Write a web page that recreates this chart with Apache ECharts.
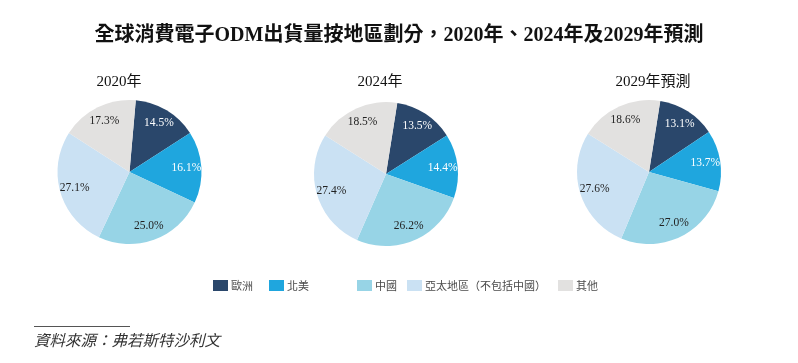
<!DOCTYPE html>
<html><head><meta charset="utf-8">
<script src="https://cdn.jsdelivr.net/npm/echarts@6/dist/echarts.min.js"></script>
<style>html,body{margin:0;padding:0;background:#fff}#c{width:798px;height:363px}</style>
</head><body><div id="c"></div>
<script>
const regions = ['歐洲', '北美', '中國', '亞太地區（不包括中國）', '其他'];
const years = ['2020年', '2024年', '2029年預測'];
const share2020 = [14.5, 16.1, 25.0, 27.1, 17.3];
const share2024 = [13.5, 14.4, 26.2, 27.4, 18.5];
const share2029 = [13.1, 13.7, 27.0, 27.6, 18.6];
const shares = [share2020, share2024, share2029];

const colors = ['#2a476b', '#1fa6de', '#97d4e6', '#cae1f3', '#e2e1e0'];
const labelColors = ['#ffffff', '#ffffff', '#222222', '#222222', '#222222'];
const centers = [[129.5, 172], [386, 174], [649, 172]];
const titleX = [114, 375, 648];
const starts = [85, 81, 81];
const R = 72;
const serif = '"Liberation Serif", "Noto Sans CJK TC", serif';

const chart = echarts.init(document.getElementById('c'), null, {renderer: 'canvas'});
const series = [];
shares.forEach((vals, i) => {
  series.push({
    type: 'pie', center: centers[i], radius: [0, R], startAngle: starts[i],
    clockwise: true, silent: true, animation: false,
    label: {show: false}, labelLine: {show: false},
    itemStyle: {borderWidth: 0},
    data: regions.map((n, k) => ({name: n, value: vals[k], itemStyle: {color: colors[k]}}))
  });
});
shares.forEach((vals, i) => {
  series.push({
    type: 'pie', center: centers[i], radius: [36, R], startAngle: starts[i],
    clockwise: true, silent: true, animation: false, avoidLabelOverlap: false,
    labelLine: {show: false},
    itemStyle: {color: 'rgba(0,0,0,0)', borderWidth: 0},
    label: {show: true, position: 'inside', fontFamily: serif, fontSize: 11.5,
      formatter: p => p.value.toFixed(1) + '%'},
    data: regions.map((n, k) => ({name: n, value: vals[k],
      label: {color: labelColors[k]}}))
  });
});

const legendX = [208, 264, 352, 402, 553];
const legends = regions.map((n, k) => ({
  data: [n], left: legendX[k], top: 275, itemWidth: 15, itemHeight: 11,
  icon: 'rect', selectedMode: false,
  textStyle: {fontSize: 11, color: '#4a4a4a', fontFamily: '"Noto Sans CJK TC"', padding: [0, 0, 0, -2]}
}));

const titles = [{
  text: '全球消費電子ODM出貨量按地區劃分，2020年、2024年及2029年預測',
  left: 'center', top: 21,
  textStyle: {fontFamily: serif, fontWeight: 'bold', fontSize: 20, color: '#111'}
}];
years.forEach((y, i) => titles.push({
  text: y, left: titleX[i], top: 70, textAlign: 'center',
  textStyle: {fontFamily: serif, fontWeight: 'normal', fontSize: 15, color: '#111'}
}));

chart.setOption({
  animation: false,
  color: colors,
  title: titles,
  legend: legends,
  series: series,
  graphic: [
    {type: 'line', shape: {x1: 34, y1: 326.5, x2: 130, y2: 326.5}, style: {stroke: '#555', lineWidth: 1}},
    {type: 'text', left: 34, top: 332, style: {text: '資料來源：弗若斯特沙利文', font: 'italic 15.5px "Noto Sans CJK TC"', fill: '#333'}}
  ]
});
</script></body></html>
